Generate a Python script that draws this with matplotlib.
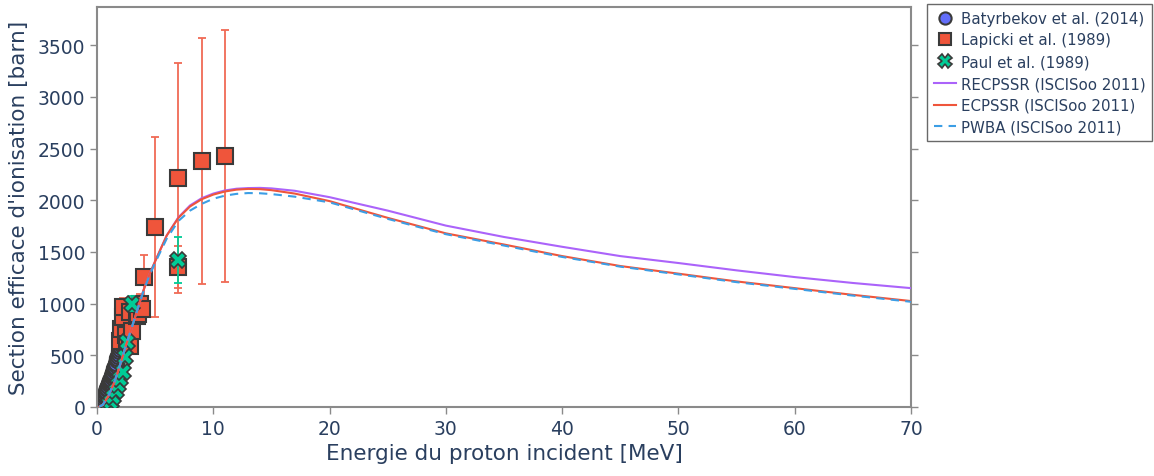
import numpy as np
import matplotlib
matplotlib.use("Agg")
import matplotlib.pyplot as plt

# --- data ---
# Batyrbekov et al. (2014)
bat_energy = [0.20, 0.25, 0.30, 0.35, 0.40, 0.45, 0.50, 0.55, 0.60, 0.65,
              0.70, 0.75, 0.80, 0.85, 0.90, 0.95, 1.00, 1.05, 1.10, 1.15,
              1.20, 1.25, 1.30, 1.35, 1.40, 1.45, 1.50, 1.55, 1.60, 1.65,
              1.70, 1.75, 1.80, 1.85, 1.90, 1.95, 2.00, 2.05, 2.10, 2.15,
              2.20, 2.25, 2.30, 2.35, 2.40]
bat_sigma = [5, 9, 14, 20, 28, 38, 50, 63, 78, 95,
             115, 135, 155, 172, 188, 203, 218, 232, 246, 260,
             275, 290, 306, 322, 338, 355, 373, 391, 410, 430,
             450, 471, 493, 516, 539, 563, 588, 614, 640, 667,
             697, 728, 760, 792, 825]

# Lapicki et al. (1989)
lap_energy = [2.0, 2.1, 2.25, 2.25, 2.5, 2.6, 2.8, 2.85, 3.0, 3.4, 3.5, 3.7, 3.9,
              4.0, 5.0, 7.0, 7.0, 9.0, 11.0]
lap_sigma = [640, 755, 870, 965, 700, 610, 590, 920, 735, 880, 900, 1000, 950,
             1257, 1741, 2215, 1355, 2380, 2430]
lap_err = [60, 70, 80, 90, 65, 60, 55, 85, 70, 80, 85, 95, 90,
           210, 870, 1110, 200, 1190, 1220]

# Paul et al. (1989)
paul_energy = [1.0, 1.2, 1.4, 1.6, 1.8, 2.0, 2.2, 2.4, 2.6, 3.0, 7.0]
paul_sigma = [25, 50, 95, 150, 210, 270, 340, 480, 630, 1000, 1420]
paul_err = [3, 5, 10, 15, 20, 25, 30, 40, 50, 70, 220]

# ISCISoo 2011 theory curves
th_energy = [0.2, 0.5, 1, 1.5, 2, 2.5, 3, 3.5, 4, 4.5, 5, 6, 7, 8, 9, 10, 11, 12,
             13, 14, 15, 17, 20, 25, 30, 35, 40, 45, 50, 55, 60, 65, 70]
recpssr = [2, 20, 110, 240, 410, 600, 770, 950, 1130, 1280, 1410, 1660, 1835, 1950,
           2020, 2065, 2095, 2112, 2118, 2120, 2115, 2092, 2030, 1900, 1755, 1645,
           1550, 1460, 1393, 1322, 1257, 1200, 1150]
ecpssr = [2, 20, 110, 240, 410, 600, 770, 950, 1130, 1280, 1410, 1660, 1830, 1940,
          2010, 2055, 2085, 2103, 2110, 2108, 2098, 2065, 1992, 1830, 1680, 1572,
          1460, 1364, 1290, 1215, 1150, 1085, 1025]
pwba = [2, 22, 115, 245, 415, 600, 775, 950, 1120, 1270, 1395, 1630, 1800, 1900,
        1965, 2015, 2045, 2062, 2070, 2068, 2060, 2035, 1980, 1820, 1672, 1562,
        1452, 1358, 1283, 1208, 1143, 1078, 1018]

text_color = '#2a3f5f'
edge = '#3a3a3a'

fig = plt.figure(figsize=(11.54, 4.77), dpi=100)
ax = fig.add_axes([97 / 1154, 69 / 477, 814 / 1154, 400 / 477])

ax.plot(bat_energy, bat_sigma, 'o', ms=11, mfc='#636efa', mec=edge, mew=1.5,
        label='Batyrbekov et al. (2014)', zorder=2)

ax.errorbar(lap_energy, lap_sigma, yerr=lap_err, fmt='none', ecolor='#f06a55',
            elinewidth=1.3, capsize=3, capthick=1.3, zorder=3)
ax.plot(lap_energy, lap_sigma, 's', ms=11, mfc='#ef553b', mec=edge, mew=1.5,
        label='Lapicki et al. (1989)', zorder=3)

ax.errorbar(paul_energy, paul_sigma, yerr=paul_err, fmt='none', ecolor='#00cc96',
            elinewidth=1.3, capsize=3, capthick=1.3, zorder=4)
ax.plot(paul_energy, paul_sigma, 'X', ms=12, mfc='#00cc96', mec=edge, mew=1.2,
        label='Paul et al. (1989)', zorder=4)

ax.plot(th_energy, recpssr, '-', color='#ab63fa', lw=1.5,
        label='RECPSSR (ISCISoo 2011)', zorder=5)
ax.plot(th_energy, ecpssr, '-', color='#ef553b', lw=1.5,
        label='ECPSSR (ISCISoo 2011)', zorder=5)
ax.plot(th_energy, pwba, '--', color='#3c9ee5', lw=1.5, dashes=(4, 3),
        label='PWBA (ISCISoo 2011)', zorder=5)

ax.set_xlim(0, 70)
ax.set_ylim(0, 3870)
ax.set_xticks(np.arange(0, 71, 10))
ax.set_yticks(np.arange(0, 3501, 500))

for side in ['left', 'right', 'top', 'bottom']:
    ax.spines[side].set_color('#8a8a8a')
    ax.spines[side].set_linewidth(1.5)
ax.tick_params(axis='both', which='both', direction='out', length=5, width=1,
               color='#8a8a8a', labelcolor=text_color, labelsize=13.5,
               top=False, right=True)
ax.set_xlabel('Energie du proton incident [MeV]', fontsize=15.5, color=text_color, labelpad=4)
ax.set_ylabel("Section efficace d'ionisation [barn]", fontsize=15.5, color=text_color, labelpad=6)

leg = fig.legend(loc='upper left', bbox_to_anchor=(927 / 1154, 1 - 5 / 477),
                 fontsize=10.8, frameon=True, fancybox=False, borderpad=0.45,
                 labelspacing=0.45, handlelength=1.45, handletextpad=0.35,
                 markerscale=0.8, borderaxespad=0)
leg.get_frame().set_edgecolor('#444444')
leg.get_frame().set_linewidth(1)
for t in leg.get_texts():
    t.set_color(text_color)

fig.savefig('out.png', dpi=100)
